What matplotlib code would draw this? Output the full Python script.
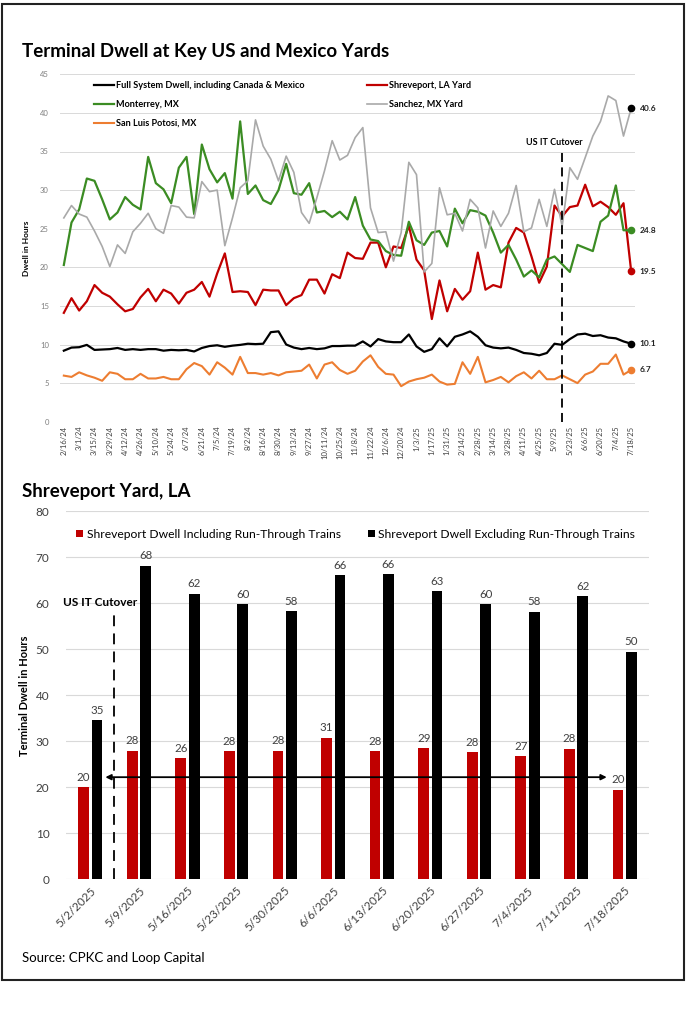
import numpy as np
import pandas as pd
import matplotlib
matplotlib.use("Agg")
import matplotlib.pyplot as plt
from matplotlib.patches import Rectangle

plt.rcParams['font.family'] = ['Lato', 'DejaVu Sans']

# ---- top chart data (weekly, 2/16/24 .. 7/18/25) ----
weeks = pd.date_range('2024-02-16', periods=75, freq='7D')
week_labels = [f"{d.month}/{d.day}/{d.year % 100}" for d in weeks]

full_system = [9.2, 9.6, 9.65, 9.95, 9.3, 9.35, 9.4, 9.55, 9.3, 9.4,
               9.3, 9.4, 9.4, 9.2, 9.3, 9.25, 9.3, 9.1, 9.55, 9.8,
               9.9, 9.7, 9.85, 9.95, 10.1, 10.05, 10.1, 11.6, 11.7, 10.0,
               9.6, 9.4, 9.55, 9.4, 9.5, 9.8, 9.8, 9.85, 9.85, 10.4,
               9.75, 10.7, 10.4, 10.3, 10.3, 11.3, 9.75, 9.05, 9.4, 10.8,
               9.75, 11.0, 11.3, 11.7, 11.0, 9.9, 9.6, 9.5, 9.6, 9.3,
               8.9, 8.8, 8.6, 8.9, 10.1, 9.95, 10.7, 11.3, 11.4, 11.1,
               11.2, 10.9, 10.8, 10.4, 10.1]
shreveport = [14.1, 16.0, 14.4, 15.6, 17.7, 16.7, 16.2, 15.2, 14.3, 14.6,
              16.1, 17.2, 15.6, 17.1, 16.6, 15.3, 16.7, 17.1, 18.1, 16.2,
              19.2, 21.8, 16.8, 16.9, 16.8, 15.1, 17.1, 17.0, 17.0, 15.1,
              16.0, 16.4, 18.4, 18.4, 16.6, 19.1, 18.6, 21.9, 21.2, 21.1,
              23.2, 23.2, 20.0, 22.7, 22.5, 25.4, 21.0, 19.6, 13.3, 18.3,
              14.3, 17.2, 15.8, 16.9, 21.9, 17.1, 17.7, 17.4, 23.2, 25.1,
              24.5, 21.4, 18.0, 20.1, 28.0, 26.6, 27.8, 28.0, 30.7, 27.9,
              28.5, 27.8, 26.8, 28.3, 19.5]
monterrey = [20.3, 25.8, 27.5, 31.5, 31.2, 28.8, 26.2, 27.1, 29.1, 28.1,
             27.5, 34.3, 30.9, 30.1, 28.3, 32.9, 34.3, 26.9, 35.9, 32.7,
             31.0, 32.2, 28.9, 38.9, 29.5, 30.6, 28.7, 28.2, 30.0, 33.4,
             29.6, 29.4, 30.9, 27.1, 27.3, 26.5, 27.2, 26.2, 29.1, 25.4,
             23.6, 23.4, 22.1, 21.6, 21.5, 25.9, 23.5, 22.9, 24.5, 24.7,
             22.7, 27.6, 25.7, 27.4, 27.2, 26.7, 24.5, 21.9, 22.9, 21.0,
             18.8, 19.6, 18.7, 21.0, 21.4, 20.4, 19.4, 22.9, 22.5, 22.1,
             25.9, 26.7, 30.6, 24.8, 24.8]
sanchez = [26.4, 28.0, 26.9, 26.5, 24.7, 22.7, 20.1, 22.9, 21.8, 24.6,
           25.7, 27.0, 25.0, 24.4, 28.0, 27.8, 26.5, 26.4, 31.1, 29.8,
           30.0, 22.8, 26.4, 30.3, 31.2, 39.1, 35.7, 34.0, 31.2, 34.4,
           32.3, 27.1, 25.7, 29.0, 32.5, 36.4, 33.9, 34.5, 36.8, 38.1,
           27.7, 24.5, 24.6, 20.8, 24.5, 33.6, 32.0, 19.4, 20.5, 30.3,
           26.8, 27.0, 24.7, 28.8, 27.7, 22.5, 27.3, 25.3, 27.0, 30.6,
           24.6, 25.1, 28.8, 25.3, 30.1, 25.3, 32.9, 31.4, 34.2, 37.0,
           38.9, 42.2, 41.6, 37.0, 40.6]
san_luis = [5.97, 5.8, 6.4, 6.0, 5.7, 5.3, 6.4, 6.2, 5.5, 5.5,
            6.2, 5.6, 5.6, 5.8, 5.5, 5.5, 6.8, 7.6, 7.2, 6.1,
            7.7, 7.0, 6.1, 8.4, 6.3, 6.3, 6.1, 6.3, 6.0, 6.4,
            6.5, 6.6, 7.4, 5.6, 7.4, 7.7, 6.7, 6.2, 6.6, 7.8,
            8.6, 7.1, 6.2, 6.1, 4.6, 5.2, 5.5, 5.7, 6.1, 5.2,
            4.8, 4.9, 7.7, 6.2, 8.4, 5.1, 5.4, 5.8, 5.1, 5.9,
            6.4, 5.6, 6.6, 5.5, 5.5, 6.0, 5.5, 5.0, 6.1, 6.5,
            7.5, 7.5, 8.7, 6.1, 6.7]
cutover_week = 65

# ---- bottom chart data ----
bar_dates = ['5/2/2025', '5/9/2025', '5/16/2025', '5/23/2025', '5/30/2025', '6/6/2025',
             '6/13/2025', '6/20/2025', '6/27/2025', '7/4/2025', '7/11/2025', '7/18/2025']
incl_rt = [20.1, 28.0, 26.4, 27.8, 28.0, 30.8, 27.8, 28.6, 27.7, 26.7, 28.4, 19.5]
excl_rt = [34.6, 68.2, 62.1, 59.8, 58.3, 66.2, 66.3, 62.6, 59.8, 58.2, 61.5, 49.5]

RED = '#c00000'
GREEN = '#3b8c23'
GRAY = '#a9a9a9'
ORANGE = '#ed7d31'
GRID = '#d9d9d9'

fig = plt.figure(figsize=(6.86, 10.24), dpi=100)

# outer frame
fig.patches.append(Rectangle((2 / 686, 1 - 980 / 1024), 682 / 686, 976 / 1024,
                             transform=fig.transFigure, fill=False,
                             edgecolor='#222222', linewidth=1.5))

# ================= top chart =================
fig.text(22 / 686, 1 - 52 / 1024, 'Terminal Dwell at Key US and Mexico Yards',
         fontsize=13.5, fontweight='bold', va='center')

ax = fig.add_axes([60 / 686, 1 - 421.7 / 1024, 575 / 686, 347.4 / 1024])
x = np.arange(len(weeks))
series = [
    ('Full System Dwell, including Canada & Mexico', full_system, 'black', 1.6),
    ('Shreveport, LA Yard', shreveport, RED, 1.6),
    ('Monterrey, MX', monterrey, GREEN, 1.6),
    ('Sanchez, MX Yard', sanchez, GRAY, 1.2),
    ('San Luis Potosi, MX', san_luis, ORANGE, 1.5),
]
handles = {}
for name, vals, col, lw in series:
    h, = ax.plot(x, vals, color=col, lw=lw, label=name)
    handles[name] = h

# end-point markers and labels
end_marks = [(sanchez, 'black'), (monterrey, GREEN), (shreveport, RED),
             (full_system, 'black'), (san_luis, ORANGE)]
for vals, col in end_marks:
    ax.plot(x[-1], vals[-1], 'o', color=col, ms=4.5, zorder=5)
    ax.annotate(f'{vals[-1]:.1f}', (x[-1], vals[-1]), xytext=(6, 0),
                textcoords='offset points', va='center', fontsize=6,
                fontweight='bold', color='#222222')

ax.vlines(cutover_week, 0, 35, colors='black', linestyles=(0, (5, 3)), lw=1.3)
ax.text(cutover_week - 1, 36.2, 'US IT Cutover', ha='center', va='center',
        fontsize=6.5, fontweight='bold')

ax.set_xlim(-0.5, len(weeks) - 0.5)
ax.set_ylim(0, 45)
ax.set_yticks(range(0, 46, 5))
ax.tick_params(axis='y', labelsize=5.5, labelcolor='#7f7f7f', length=0, pad=8)
ax.set_xticks(x[::2])
ax.set_xticklabels(week_labels[::2], rotation=90, fontsize=5.5, color='#404040')
ax.tick_params(axis='x', length=0, pad=3)
ax.grid(axis='y', color=GRID, lw=0.7)
ax.set_axisbelow(True)
for s in ax.spines.values():
    s.set_visible(False)
ax.set_ylabel('Dwell in Hours', fontsize=6, fontweight='bold')
ax.yaxis.set_label_coords(-0.052, 0.5)

order = ['Full System Dwell, including Canada & Mexico', 'Monterrey, MX',
         'San Luis Potosi, MX', 'Shreveport, LA Yard', 'Sanchez, MX Yard']
leg = ax.legend([handles[n] for n in order], order, ncol=2, loc='upper left',
                bbox_to_anchor=(0.045, 1.005), frameon=False, handlelength=2.2,
                handletextpad=0.2, columnspacing=6.8, labelspacing=1.1,
                prop={'size': 6.6, 'weight': 'bold'})

# ================= bottom chart =================
fig.text(22 / 686, 1 - 491 / 1024, 'Shreveport Yard, LA',
         fontsize=13.5, fontweight='bold', va='center')

bx = fig.add_axes([66 / 686, 1 - 879.3 / 1024, 583 / 686, 368 / 1024])
xb = np.arange(len(bar_dates))
w = 0.22
b1 = bx.bar(xb - 0.138, incl_rt, w, color=RED,
            label='Shreveport Dwell Including Run-Through Trains')
b2 = bx.bar(xb + 0.138, excl_rt, w, color='black',
            label='Shreveport Dwell Excluding Run-Through Trains')
for bars in (b1, b2):
    for r in bars:
        v = r.get_height()
        bx.annotate(f'{v:.0f}', (r.get_x() + r.get_width() / 2, v),
                    xytext=(0, 3), textcoords='offset points', ha='center',
                    va='bottom', fontsize=8.3, color='#404040')

bx.annotate('', xy=(0.31, 22.2), xytext=(10.63, 22.2),
            arrowprops=dict(arrowstyle='<|-|>', color='black', lw=1.3,
                            mutation_scale=8, shrinkA=0, shrinkB=0), zorder=6)
bx.vlines(0.49, 0, 58.3, colors='black', linestyles=(0, (6, 4)), lw=1.3)
bx.text(0.2, 60.1, 'US IT Cutover', ha='center', va='center', fontsize=8.5,
        fontweight='bold')

bx.set_xlim(-0.5, len(bar_dates) - 0.5)
bx.set_ylim(0, 80)
bx.set_yticks(range(0, 81, 10))
bx.tick_params(axis='y', labelsize=8.5, labelcolor='#404040', length=0, pad=12)
bx.set_xticks(xb)
bx.set_xticklabels(bar_dates, rotation=45, ha='right', rotation_mode='anchor',
                   fontsize=8.5, color='#404040')
bx.tick_params(axis='x', length=0, pad=4)
bx.grid(axis='y', color=GRID, lw=0.8)
bx.set_axisbelow(True)
for s in bx.spines.values():
    s.set_visible(False)
bx.set_ylabel('Terminal Dwell in Hours', fontsize=8, fontweight='bold')
bx.yaxis.set_label_coords(-0.062, 0.5)
bx.legend(loc='center', bbox_to_anchor=(0.497, 0.938), ncol=2, frameon=False,
          handlelength=0.6, handleheight=0.6, handletextpad=0.3,
          columnspacing=2.2, fontsize=8.7)

fig.text(22 / 686, 1 - 958 / 1024, 'Source: CPKC and Loop Capital',
         fontsize=9.5, va='center')

fig.savefig('out.png', dpi=100)
